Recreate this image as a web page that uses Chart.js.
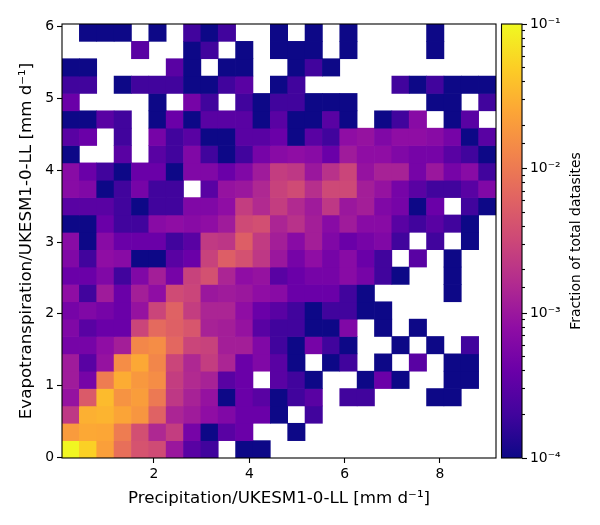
<!DOCTYPE html>
<html>
<head>
<meta charset="utf-8">
<script src="https://cdn.jsdelivr.net/npm/chart.js@4"></script>
<style>
html,body{margin:0;padding:0;background:#fff;}
#wrap{position:relative;width:600px;height:525px;overflow:hidden;}
canvas{position:absolute;top:0;}
</style>
</head>
<body>
<div id="wrap">
<canvas id="heat" width="600" height="525" style="left:0"></canvas>
<canvas id="bar" width="600" height="525" style="left:0"></canvas>
<canvas id="lab" width="40" height="525" style="left:560px"></canvas>
</div>
<script>
// Cell values in units of 1e-4 of total datasites; 0 = empty bin. Top row first.
const row24=[0,1,1,1,0,1,0,2,1,2,0,0,1,0,1,0,1,0,0,0,0,1,0,0,0];
const row23=[0,0,0,0,3,0,0,1,2,0,1,0,1,1,1,0,1,0,0,0,0,1,0,0,0];
const row22=[1,1,0,0,0,0,3,1,0,1,1,0,0,1,2,1,0,0,0,0,0,0,0,0,0];
const row21=[2,2,0,1,2,2,2,1,1,2,3,0,1,2,0,0,0,0,0,2,1,2,1,1,1];
const row20=[4,0,0,0,0,1,0,5,2,0,2,1,2,2,1,1,1,0,0,0,0,1,1,0,2];
const row19=[1,1,3,2,0,1,4,1,3,3,3,1,3,1,1,3,1,0,1,2,7,0,1,3,0];
const row18=[3,4,0,2,0,5,2,3,1,1,3,3,4,1,3,2,8,9,6,8,8,7,5,1,3];
const row17=[1,0,0,3,0,3,2,6,2,1,2,5,7,8,7,4,11,8,8,6,5,5,3,2,1];
const row16=[7,4,2,1,4,4,1,6,6,4,6,11,25,22,10,19,30,9,13,13,5,10,5,7,2];
const row15=[7,6,1,2,5,2,2,0,3,9,10,15,28,35,18,33,33,12,9,5,3,2,2,3,6];
const row14=[3,3,3,2,1,2,2,6,6,8,25,16,25,16,11,22,10,12,6,5,1,4,0,2,1];
const row13=[1,1,4,2,2,7,8,7,8,11,34,38,14,19,12,7,11,7,7,3,2,3,2,1,0];
const row12=[7,1,7,4,4,4,2,3,23,21,55,24,12,7,12,6,4,5,6,2,0,2,0,1,0];
const row11=[6,2,8,7,1,1,3,4,28,55,40,22,10,5,8,5,7,4,2,0,3,0,1,0,0];
const row10=[4,4,6,2,6,12,5,28,40,14,8,9,3,4,5,5,7,5,2,1,0,0,1,0,0];
const row09=[8,2,11,4,12,8,35,30,10,11,10,8,7,4,4,4,2,1,0,0,0,0,1,0,0];
const row08=[5,6,5,4,9,30,60,25,14,14,8,4,3,2,1,2,2,1,1,0,0,0,0,0,0];
const row07=[6,3,4,4,30,72,58,45,13,12,9,3,2,2,1,1,6,0,1,0,1,0,0,0,0];
const row06=[5,5,8,12,133,150,68,30,28,12,12,6,2,1,5,2,1,0,0,1,0,1,0,2,0];
const row05=[11,3,9,150,260,130,30,15,25,14,4,6,3,1,0,1,2,0,1,0,3,0,1,1,0];
const row04=[11,5,105,280,190,150,25,16,13,3,4,0,3,2,1,0,0,1,4,1,0,0,1,1,0];
const row03=[9,50,360,170,210,100,22,13,9,1,4,3,1,2,3,0,2,2,0,0,0,1,1,0,0];
const row02=[22,300,320,240,180,60,14,11,8,6,4,4,1,0,2,0,0,0,0,0,0,0,0,0,0];
const row01=[200,260,250,105,38,15,25,5,1,3,4,0,0,1,0,0,0,0,0,0,0,0,0,0,0];
const row00=[950,520,220,80,42,35,10,3,2,0,1,1,0,0,0,0,0,0,0,0,0,0,0,0,0];
const rowsBottomUp=[row00,row01,row02,row03,row04,row05,row06,row07,row08,row09,row10,row11,row12,
  row13,row14,row15,row16,row17,row18,row19,row20,row21,row22,row23,row24];

const valueUnit=1e-4;
const xRange=[0.07,9.175];
const yRange=[-0.01,6.04];
const colorRange=[1e-4,1e-1];
const xTitle='Precipitation/UKESM1-0-LL [mm d⁻¹]';
const yTitle='Evapotranspiration/UKESM1-0-LL [mm d⁻¹]';
const barTitle='Fraction of total datasites';
const colorLabels={'-4':'10⁻⁴','-3':'10⁻³','-2':'10⁻²','-1':'10⁻¹'};
const plasma=['#0d0887','#41049d','#6a00a8','#8f0da4','#b12a90','#cc4778','#e16462','#f2844b','#fca636','#fcce25','#f0f921'];

const FONT='"DejaVu Sans"';
const L=62,R=496,T=24,B=458,H=525,W=600;

function hex(c){return [1,3,5].map(i=>parseInt(c.substr(i,2),16));}
function plasmaColor(v){
  const lo=Math.log10(colorRange[0]),hi=Math.log10(colorRange[1]);
  let t=(Math.log10(v)-lo)/(hi-lo); t=Math.max(0,Math.min(1,t));
  const p=t*(plasma.length-1),i=Math.min(plasma.length-2,Math.floor(p)),f=p-i;
  const a=hex(plasma[i]),b=hex(plasma[i+1]);
  return 'rgb('+a.map((x,k)=>Math.round(x+(b[k]-x)*f)).join(',')+')';
}
const nRows=rowsBottomUp.length,nCols=row00.length;
const dx=(xRange[1]-xRange[0])/nCols,dy=(yRange[1]-yRange[0])/nRows;
const cells=[];
rowsBottomUp.forEach((row,r)=>row.forEach((n,c)=>{
  if(n>0)cells.push({x:xRange[0]+(c+0.5)*dx,y:[yRange[0]+r*dy,yRange[0]+(r+1)*dy],v:n*valueUnit});
}));

const frame={id:'frame',afterDatasetsDraw(ch){
  const a=ch.chartArea,c=ch.ctx;c.save();c.strokeStyle='#000';c.lineWidth=1.1;
  c.strokeRect(a.left,a.top,a.right-a.left,a.bottom-a.top);c.restore();
}};
const base={responsive:false,animation:false,devicePixelRatio:1,events:[],
  plugins:{legend:{display:false},tooltip:{enabled:false},title:{display:false}}};

new Chart(document.getElementById('heat'),{
  type:'bar',
  data:{datasets:[{data:cells,barPercentage:1,categoryPercentage:1,borderWidth:0,
    backgroundColor:ctx=>ctx.raw?plasmaColor(ctx.raw.v):'#fff'}]},
  plugins:[frame],
  options:{...base,
    layout:{padding:{left:0,top:T,right:W-R,bottom:0}},
    scales:{
      x:{type:'linear',offset:false,min:xRange[0],max:xRange[1],
        afterFit(s){s.height=H-B;},
        grid:{display:true,offset:false,drawOnChartArea:false,drawTicks:true,tickLength:5,tickColor:'#000',tickWidth:1.1},
        border:{display:false},
        ticks:{stepSize:2,includeBounds:false,autoSkip:false,maxRotation:0,padding:3,color:'#000',font:{family:FONT,size:13.9}},
        title:{display:true,text:xTitle,color:'#000',font:{family:FONT,size:16.67},padding:{top:4,bottom:16}}},
      y:{type:'linear',min:yRange[0],max:yRange[1],
        afterFit(s){s.width=L;},
        grid:{display:true,drawOnChartArea:false,drawTicks:true,tickLength:5,tickColor:'#000',tickWidth:1.1},
        border:{display:false},
        ticks:{stepSize:1,includeBounds:false,autoSkip:false,padding:3,color:'#000',font:{family:FONT,size:13.9}},
        title:{display:true,text:yTitle,color:'#000',font:{family:FONT,size:16.67},padding:{top:17,bottom:0}}}
    }}
});

const isMajor=v=>Math.abs(Math.log10(v)-Math.round(Math.log10(v)))<1e-6;
new Chart(document.getElementById('bar'),{
  type:'bar',
  data:{datasets:[{data:[{x:0.5,y:colorRange}],barThickness:21,borderWidth:0,inflateAmount:0,
    backgroundColor(ctx){
      const a=ctx.chart.chartArea;if(!a)return '#000';
      const g=ctx.chart.ctx.createLinearGradient(0,a.bottom,0,a.top);
      plasma.forEach((c,i)=>g.addColorStop(i/(plasma.length-1),c));
      return g;
    }}]},
  plugins:[frame],
  options:{...base,
    layout:{padding:{left:501.5,top:T,right:0,bottom:H-B}},
    scales:{
      x:{type:'linear',offset:false,min:0,max:1,display:false},
      y:{type:'logarithmic',position:'right',min:colorRange[0],max:colorRange[1],
        afterFit(s){s.width=W-522;},
        grid:{display:true,drawOnChartArea:false,drawTicks:true,tickLength:5,tickColor:'#000',tickWidth:1.1,
          tickBorderDash:ctx=>(ctx.tick&&isMajor(ctx.tick.value))?[]:[3,3]},
        border:{display:false},
        ticks:{autoSkip:false,padding:3,color:'#000',font:{family:FONT,size:13.9},
          callback:v=>isMajor(v)?colorLabels[String(Math.round(Math.log10(v)))]:''}}
    }}
});

new Chart(document.getElementById('lab'),{
  type:'scatter',
  data:{datasets:[{data:[]}]},
  options:{...base,
    layout:{padding:{top:T,bottom:H-B,left:0,right:0}},
    scales:{
      x:{display:false},
      y:{display:true,position:'left',
        afterFit(s){s.width=30;},
        grid:{display:false},border:{display:false},ticks:{display:false},
        title:{display:true,text:barTitle,color:'#000',font:{family:FONT,size:13.9},padding:{top:8,bottom:0}}}
    }}
});
</script>
</body>
</html>
